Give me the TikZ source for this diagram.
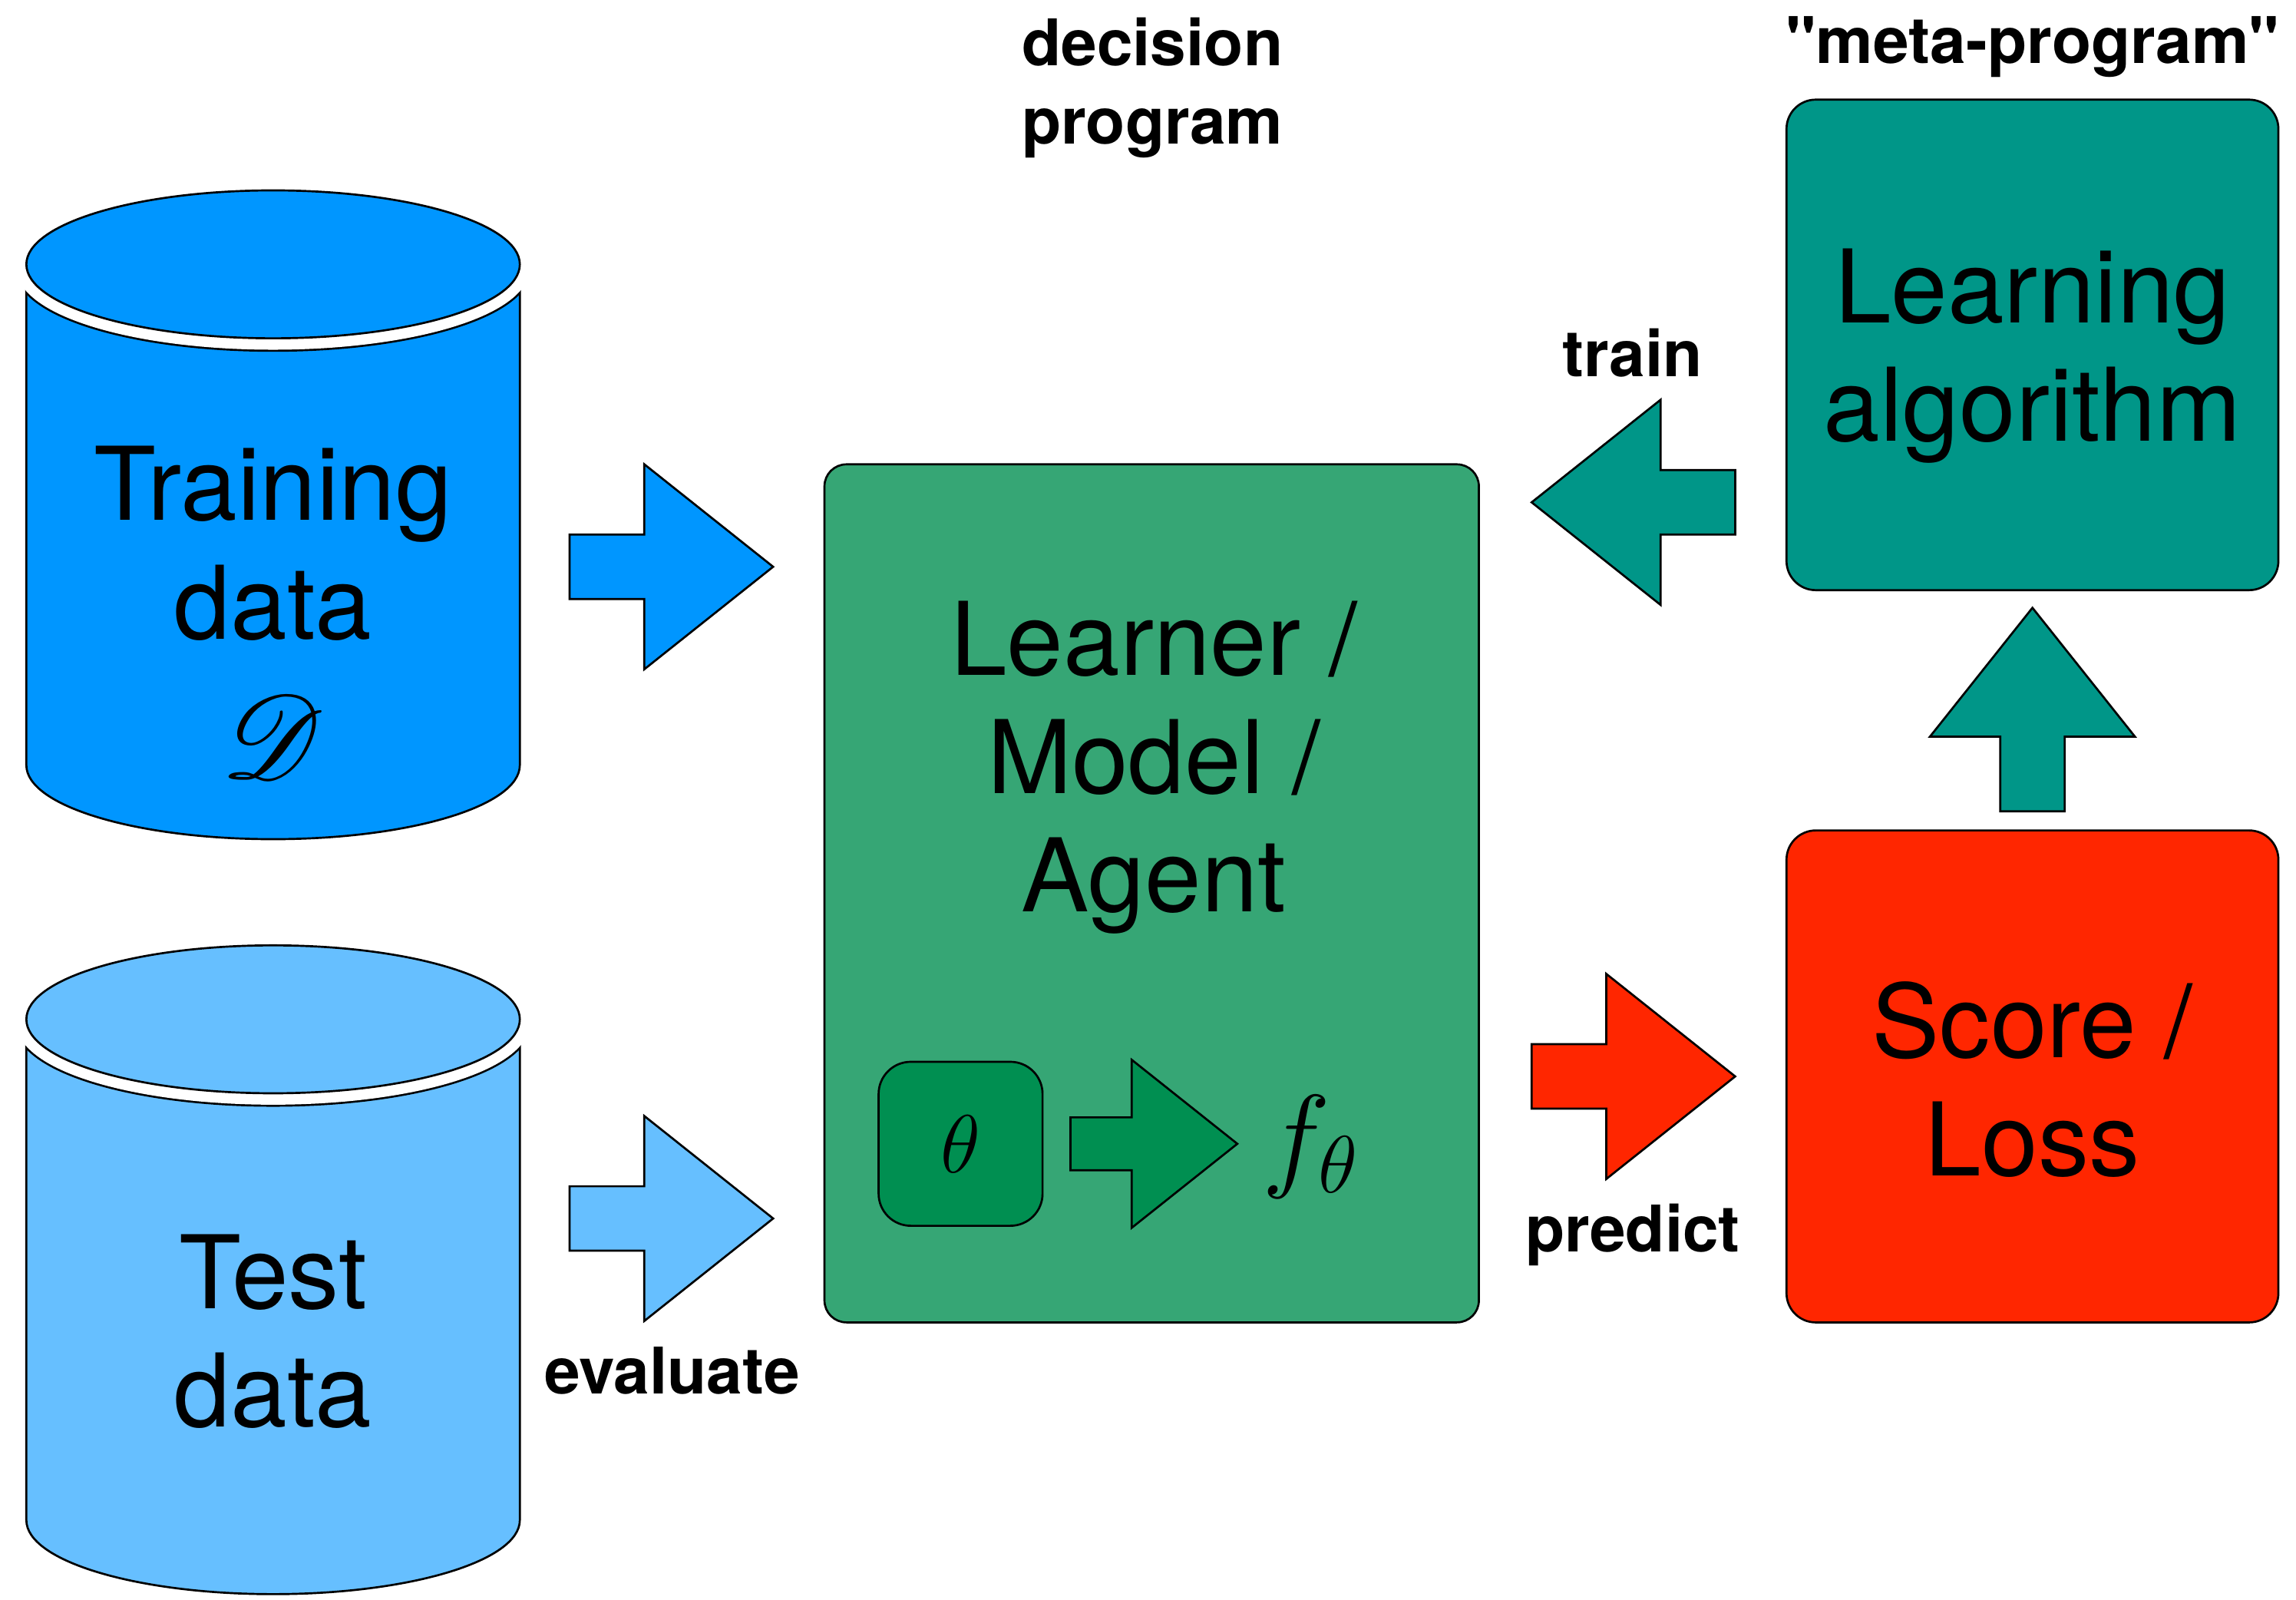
\RequirePackage{fix-cm}
\documentclass[tikz,border=0pt]{standalone}
\usepackage{fontspec}
\usepackage{mathrsfs}
\setmainfont{TeX Gyre Heros}
% let the script letters scale to any size
\DeclareFontFamily{U}{rsfs}{\skewchar\font'177}
\DeclareFontShape{U}{rsfs}{m}{n}{<-6> rsfs5 <6-8> rsfs7 <8-> rsfs10}{}
\definecolor{trainblue}{RGB}{0,150,255}
\definecolor{testblue}{RGB}{102,191,255}
\definecolor{learnergreen}{RGB}{54,166,117}
\definecolor{thetagreen}{RGB}{0,143,81}
\definecolor{algoteal}{RGB}{0,150,136}
\definecolor{lossred}{RGB}{255,38,0}

% block arrow: [scale] colour, tip, angle
\newcommand{\blockarrow}[4][1]{%
  \draw[fill=#2, shift={#3}, rotate=#4, scale=#1] (0,0) -- (-88,-70) -- (-88,-22) -- (-139,-22)
    -- (-139,22) -- (-88,22) -- (-88,70) -- cycle;}

% data store: colour, y of top ellipse, y of bottom ellipse
\newcommand{\datastore}[3]{%
  \fill[#1] (18,#2) -- (18,#3) arc[start angle=180, end angle=0, x radius=168.5, y radius=50.5] -- (355,#2) -- cycle;
  \draw (18,#2) -- (18,#3) arc[start angle=180, end angle=0, x radius=168.5, y radius=50.5] -- (355,#2);
  \begin{scope}
    \clip (18,#2) -- (18,#3) arc[start angle=180, end angle=0, x radius=168.5, y radius=50.5] -- (355,#2) -- cycle;
    \draw[line width=0.368cm] (186.5,#2) ellipse [x radius=168.5, y radius=50.5];
  \end{scope}
  \draw[white, line width=0.312cm] (186.5,#2) ellipse [x radius=168.5, y radius=50.5];
  \draw[fill=#1] (186.5,#2) ellipse [x radius=168.5, y radius=50.5];}

\begin{document}
\begin{tikzpicture}[x=0.02cm, y=-0.02cm, line width=0.8pt,
    bigtext/.style={font=\fontsize{39.5}{46}\selectfont, align=center, inner sep=0pt},
    tagtext/.style={font=\fontsize{25}{30.6}\selectfont\bfseries, align=center, inner sep=0pt},
    panel/.style={draw=black, rounded corners=0.4cm, inner sep=0pt}]
  \useasboundingbox (0,0) rectangle (1568,1092);

  \datastore{trainblue}{180.5}{522.5}
  \datastore{testblue}{696}{1038}
  \node[bigtext] (traintxt) at (186.5,371) {Training\\data};
  \node[bigtext, font=\fontsize{46}{50}\selectfont] (trainsym) at (186.5,503) {$\mathscr{D}$};
  \node[bigtext] (testtxt) at (186.5,909) {Test\\data};

  \blockarrow{trainblue}{(528,387)}{0}
  \blockarrow{testblue}{(528,832)}{0}
  \blockarrow{algoteal}{(1046,343)}{180}
  \blockarrow{lossred}{(1185,735)}{0}
  \blockarrow{algoteal}{(1388,415)}{90}

  \node[panel, fill=learnergreen, rounded corners=0.3cm, minimum width=8.94cm, minimum height=11.72cm] (learner) at (786.5,610) {};
  \node[bigtext] (learnertxt) at (788,524) {Learner /\\Model /\\Agent};
  \node[panel, fill=thetagreen, rounded corners=0.44cm, minimum size=2.24cm, font=\fontsize{32}{34}\selectfont] (theta) at (656,781) {$\theta$};
  \blockarrow[0.82]{thetagreen}{(845,781)}{0}
  \node[font=\fontsize{45}{50}\selectfont, inner sep=0pt] (ftheta) at (895,783) {$f_\theta$};

  \node[panel, fill=algoteal, minimum width=6.72cm, minimum height=6.7cm] (algo) at (1388,235.5) {};
  \node[bigtext] (algotxt) at (1388,243) {Learning\\algorithm};
  \node[panel, fill=lossred, minimum width=6.72cm, minimum height=6.72cm] (score) at (1388,735) {};
  \node[bigtext] (scoretxt) at (1388,737) {Score /\\Loss};

  \node[tagtext] (decision) at (787,60) {decision\\program};
  \node[tagtext] (meta) at (1388,32) {\textquotedbl meta-program\textquotedbl};
  \node[tagtext] (trainlbl) at (1115,241) {train};
  \node[tagtext] (predictlbl) at (1115,843) {predict};
  \node[tagtext] (evallbl) at (459,936) {evaluate};
\end{tikzpicture}
\end{document}
